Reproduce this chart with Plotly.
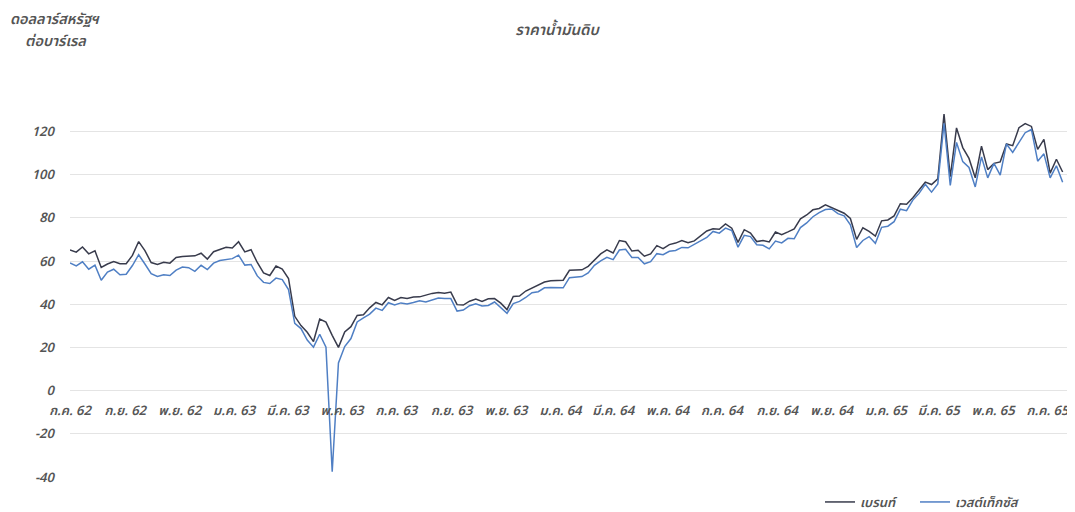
import pandas as pd
import plotly.graph_objects as go

# Weekly (Monday) observations, USD per barrel
brent_2019 = [65.1, 64.1, 66.5, 63.3, 64.7, 57.0, 58.6, 59.7, 58.7, 58.7, 62.6, 69.0, 64.8, 59.3,
              58.4, 59.4, 59.0, 61.6, 62.1, 62.2, 62.4, 63.6, 60.9, 64.3, 65.3, 66.4, 66.0]
wti_2019 = [59.1, 57.7, 59.6, 56.2, 58.1, 51.1, 54.9, 56.2, 53.6, 53.9, 57.9, 62.9, 58.6, 54.1,
            52.8, 53.6, 53.3, 55.8, 57.2, 56.9, 55.2, 58.0, 56.0, 59.0, 60.2, 60.5, 61.1]

brent_2020 = [68.9, 64.2, 65.2, 59.3, 54.5, 53.3, 57.7, 56.3, 51.9, 34.4, 30.1, 27.0, 22.7, 33.1,
              31.7, 25.6, 20.0, 27.2, 29.6, 34.8, 35.1, 38.3, 40.8, 39.7, 43.1, 41.7, 43.1, 42.7,
              43.3, 43.4, 44.2, 45.0, 45.4, 45.1, 45.6, 39.8, 39.6, 41.4, 42.4, 41.3, 42.5, 42.6,
              40.5, 37.5, 43.6, 43.8, 46.1, 47.6, 48.8, 50.3, 50.9, 50.9]
wti_2020 = [62.7, 58.1, 58.4, 53.1, 50.1, 49.6, 52.1, 51.4, 46.8, 31.1, 28.7, 23.4, 20.1, 26.1,
            20.1, -37.6, 12.8, 20.4, 24.1, 31.8, 33.7, 35.4, 38.2, 37.1, 40.7, 39.7, 40.6, 40.1,
            40.8, 41.6, 41.0, 42.0, 42.9, 42.6, 42.6, 36.8, 37.3, 39.3, 40.2, 39.2, 39.4, 41.0,
            38.6, 35.8, 40.3, 41.3, 43.1, 45.3, 45.8, 47.6, 47.7, 47.6]

brent_2021 = [51.1, 55.7, 55.8, 55.9, 57.5, 60.6, 63.3, 65.2, 63.7, 69.5, 68.9, 64.6, 65.0, 62.2,
              63.3, 67.1, 65.7, 67.6, 68.3, 69.5, 68.5, 69.3, 71.5, 73.9, 74.9, 74.7, 77.2, 75.2,
              68.6, 74.5, 72.9, 69.0, 69.5, 68.8, 73.4, 72.2, 73.5, 74.9, 79.5, 81.3, 83.7, 84.3,
              86.0, 84.7, 83.4, 82.1, 79.7, 70.0, 75.4, 73.7, 71.5, 78.6]
wti_2021 = [47.6, 52.3, 52.4, 52.8, 54.5, 58.0, 60.1, 61.7, 60.6, 65.1, 65.4, 61.6, 61.6, 58.7,
            59.7, 63.4, 62.9, 64.5, 64.9, 66.3, 66.1, 67.7, 69.2, 70.9, 73.7, 72.9, 75.2, 74.1,
            66.4, 71.9, 71.3, 67.5, 67.3, 65.6, 69.2, 68.4, 70.5, 70.3, 75.5, 77.6, 80.5, 82.4,
            83.8, 84.1, 81.9, 80.9, 76.8, 66.2, 69.5, 71.3, 68.2, 75.6]

brent_2022 = [79.0, 80.9, 86.5, 86.3, 89.3, 92.7, 96.5, 95.4, 98.0, 128.0, 99.0, 121.6, 112.5,
              107.5, 98.5, 113.2, 102.3, 105.2, 105.9, 114.2, 113.4, 121.7, 123.6, 122.3, 111.7,
              116.3, 100.7, 107.1, 101.2]
wti_2022 = [76.1, 78.2, 84.0, 83.3, 88.2, 91.3, 95.5, 91.9, 95.7, 123.7, 95.0, 114.9, 106.0,
            103.3, 94.3, 108.2, 98.5, 105.2, 99.8, 114.2, 110.3, 115.0, 119.4, 120.9, 106.2,
            109.6, 98.5, 104.1, 96.5]

first_monday = {"2019": "2019-07-01", "2020": "2020-01-06", "2021": "2021-01-04", "2022": "2022-01-03"}

tick_dates = ["2019-07-01", "2019-09-01", "2019-11-01", "2020-01-01", "2020-03-01", "2020-05-01",
              "2020-07-01", "2020-09-01", "2020-11-01", "2021-01-01", "2021-03-01", "2021-05-01",
              "2021-07-01", "2021-09-01", "2021-11-01", "2022-01-01", "2022-03-01", "2022-05-01",
              "2022-07-01"]
tick_labels = ["ก.ค. 62", "ก.ย. 62", "พ.ย. 62", "ม.ค. 63", "มี.ค. 63", "พ.ค. 63", "ก.ค. 63",
               "ก.ย. 63", "พ.ย. 63", "ม.ค. 64", "มี.ค. 64", "พ.ค. 64", "ก.ค. 64", "ก.ย. 64",
               "พ.ย. 64", "ม.ค. 65", "มี.ค. 65", "พ.ค. 65", "ก.ค. 65"]

series_names = ["เบรนท์", "เวสต์เท็กซัส"]
y_ticks = [-40, -20, 0, 20, 40, 60, 80, 100, 120]
unit_lines = ["ดอลลาร์สหรัฐฯ", "ต่อบาร์เรล"]

brent_parts = [brent_2019, brent_2020, brent_2021, brent_2022]
wti_parts = [wti_2019, wti_2020, wti_2021, wti_2022]

dates = []
for key, part in zip(["2019", "2020", "2021", "2022"], brent_parts):
    dates += list(pd.date_range(first_monday[key], periods=len(part), freq="7D"))
brent = sum(brent_parts, [])
wti = sum(wti_parts, [])

FONT = "Noto Sans Thai, Noto Sans, DejaVu Sans, sans-serif"
GRAY = "#555555"
C_BRENT = "#383b4c"
C_WTI = "#4f7fc4"

# The page adds an 8px body margin, so the figure is 8px smaller than the window.
W, H = 1067, 504
L, R, T, B = 62, 7, 91, 35
plot_w, plot_h = W - L - R, H - T - B


def tfont(size):
    return dict(size=size, color=GRAY, family=FONT, style="italic", weight=600)


fig = go.Figure()
fig.add_trace(go.Scatter(x=dates, y=brent, mode="lines", name=series_names[0],
                         line=dict(color=C_BRENT, width=1.5), legend="legend", showlegend=True))
fig.add_trace(go.Scatter(x=dates, y=wti, mode="lines", name=series_names[1],
                         line=dict(color=C_WTI, width=1.5), legend="legend2", showlegend=True))

y_min, y_max = -40, 135
fig.update_layout(
    width=W, height=H, showlegend=True,
    margin=dict(l=L, r=R, t=T, b=B, autoexpand=False),
    paper_bgcolor="white", plot_bgcolor="white",
    font=tfont(13),
    title=dict(text="ราคาน้ำมันดิบ", x=549 / W, xanchor="center", y=1 - 22 / H,
               yanchor="middle", font=tfont(15)),
    xaxis=dict(type="date", range=["2019-07-01", "2022-07-24"], anchor="free",
               position=(0 - y_min) / (y_max - y_min), tickvals=tick_dates, ticktext=tick_labels,
               showgrid=False, showline=False, zeroline=False, ticks="",
               ticklabelstandoff=10, ticklabeloverflow="allow", tickfont=tfont(13)),
    yaxis=dict(range=[y_min, y_max], tickvals=y_ticks, showgrid=True, gridcolor="#e4e4e4",
               gridwidth=1, zeroline=False, showline=False, ticks="", ticklabelstandoff=15,
               tickfont=tfont(13)),
    legend=dict(orientation="h", xref="container", yref="container", x=812 / W, xanchor="left",
                y=10 / H, yanchor="middle", itemwidth=30, font=tfont(13), visible=True),
    legend2=dict(orientation="h", xref="container", yref="container", x=907 / W,
                 xanchor="left", y=10 / H, yanchor="middle", itemwidth=30, font=tfont(13),
                 visible=True),
    annotations=[
        dict(text=unit_lines[0], xref="paper", yref="paper", x=(47 - L) / plot_w,
             y=(H - B - 12) / plot_h, xanchor="center", yanchor="middle", showarrow=False,
             font=tfont(14.5)),
        dict(text=unit_lines[1], xref="paper", yref="paper", x=(47 - L) / plot_w,
             y=(H - B - 34) / plot_h, xanchor="center", yanchor="middle", showarrow=False,
             font=tfont(14.5)),
    ],
)

fig.write_html("out.html")
